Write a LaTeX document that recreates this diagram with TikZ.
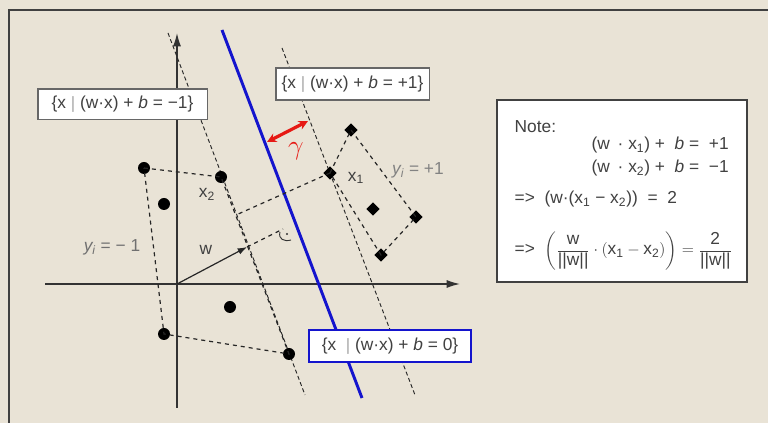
\documentclass[tikz,border=0pt]{standalone}
\usepackage{fontspec}
\usepackage{amsmath}
\setmainfont{Liberation Sans}
\usetikzlibrary{arrows.meta,shapes.geometric}
\definecolor{paper}{RGB}{233,227,214}
\definecolor{ink}{RGB}{65,65,65}
\definecolor{lightink}{RGB}{130,130,130}
\definecolor{hypblue}{RGB}{20,20,205}
\definecolor{gapred}{RGB}{230,25,20}

\begin{document}
\begin{tikzpicture}[x=0.75pt,y=-0.75pt]
\tikzstyle{negpt}=[circle,fill=black,inner sep=0pt,minimum size=9pt]
\tikzstyle{pospt}=[diamond,fill=black,inner sep=0pt,minimum size=10pt]
\tikzstyle{setbox}=[draw=ink!80,fill=white,line width=1pt,inner xsep=4pt,text=ink,font=\fontsize{13}{15}\selectfont]
\tikzstyle{lbl}=[text=ink,font=\fontsize{13}{15}\selectfont]
\tikzstyle{margin}=[densely dashed,line width=0.7pt,black!85]
\tikzstyle{hull}=[dashed,line width=0.9pt,black!85]
\tikzstyle{axis}=[line width=1pt,black!80,-{Latex[length=10pt,width=6pt]}]

\useasboundingbox (0,0) rectangle (768,423);
\fill[paper] (0,0) rectangle (768,423);
\draw[line width=2pt,black!75] (9,425) -- (9,10) -- (770,10);

% axes
\coordinate (o) at (177,284);
\coordinate (ytop) at (177,33);
\coordinate (ybot) at (177,408);
\coordinate (xl) at (45,284);
\coordinate (xr) at (460,284);
\draw[axis] (ybot) -- (ytop);
\draw[axis] (xl) -- (xr);

% margins and separating line
\coordinate (m1a) at (168,33);
\coordinate (m1b) at (305,395);
\coordinate (m2a) at (282,48);
\coordinate (m2b) at (415,395);
\coordinate (h0a) at (222,30);
\coordinate (h0b) at (362,398);
\draw[margin] (m1a) -- (m1b);
\draw[margin] (m2a) -- (m2b);
\draw[hypblue,line width=2.2pt] (h0a) -- (h0b);

% class -1
\node[negpt] (n1) at (144,168) {};
\node[negpt] (x2) at (221,177) {};
\node[negpt] (n3) at (164,204) {};
\node[negpt] (n4) at (230,307) {};
\node[negpt] (n5) at (164,334) {};
\node[negpt] (n6) at (289,354) {};

% class +1
\node[pospt] (x1) at (330,173) {};
\node[pospt] (p2) at (351,130) {};
\node[pospt] (p3) at (373,209) {};
\node[pospt] (p4) at (416,217) {};
\node[pospt] (p5) at (381,255) {};

\draw[hull] (n1.center) -- (x2.center) -- (n6.center) -- (n5.center) -- cycle;
\draw[hull] (x1.center) -- (p2.center) -- (p4.center) -- (p5.center) -- cycle;

% normal vector w
\coordinate (wt) at (247,247);
\coordinate (foot) at (283,229);
\coordinate (x1p) at (236,215);
\draw[line width=0.9pt,black!85,-{Latex[length=7pt,width=5pt]}] (o) -- (wt);
\draw[hull] (wt) -- (foot);
\draw[hull] (x1.center) -- (x1p);
\draw[black!80,line width=0.7pt] (280,232) .. controls (278,239) and (284,242) .. (291,240);
\fill[black!80] (287,234) circle (0.8pt);

% margin width
\coordinate (g1) at (267,142);
\coordinate (g2) at (308,121);
\draw[gapred,line width=2.4pt,{Stealth[length=7pt,width=7pt]}-{Stealth[length=7pt,width=7pt]}] (g1) -- (g2);
\node[text=gapred,font=\fontsize{20}{20}\selectfont] (gam) at (296,151) {$\gamma$};

% labels
\node[lbl] (x2l) at (207,194) {x\textsubscript{2}};
\node[lbl] (x1l) at (356,178) {x\textsubscript{1}};
\node[lbl,text=lightink] (ypos) at (418,170) {\textit{y\textsubscript{i}} = +1};
\node[lbl,text=ink!75] (yneg) at (112,247) {\textit{y\textsubscript{i}} = − 1};
\node[lbl] (wl) at (206,250) {w};

% hyperplane sets
\node[setbox,minimum width=127pt,minimum height=23pt] (lo) at (122.5,104.5) {\{x $|$ (w·x) + \textit{b} = −1\}};
\node[setbox,minimum width=115pt,minimum height=24pt] (hi) at (352.5,84) {\{x $|$ (w·x) + \textit{b} = +1\}};
\node[setbox,draw=hypblue,line width=1.5pt,minimum width=121.5pt,minimum height=24pt] (zero) at (390,346) {\{x \ $|$ (w·x) + \textit{b} = 0\}};

% note
\node[draw=ink,fill=white,line width=1pt,minimum width=187.5pt,minimum height=136.5pt,inner sep=0pt] (note) at (622,191) {};
\node[lbl,anchor=base west] (nt) at (510,133) {Note:};
\node[lbl,anchor=base west] (e1) at (587,150) {(w \,· x\textsubscript{1}) + \ \textit{b} = \ +1};
\node[lbl,anchor=base west] (e2) at (587,173) {(w \,· x\textsubscript{2}) + \ \textit{b} = \ −1};
\node[lbl,anchor=base west] (e3) at (510,204) {=> \ (w·(x\textsubscript{1} − x\textsubscript{2})) \ = \ 2};
\node[lbl,anchor=west] (e4) at (510,251) {=> \ $\left(\dfrac{\text{w}}{\text{||w||}}\cdot(\text{x}_{\text{1}}-\text{x}_{\text{2}})\right)=\dfrac{\text{2}}{\text{||w||}}$};
\end{tikzpicture}
\end{document}
